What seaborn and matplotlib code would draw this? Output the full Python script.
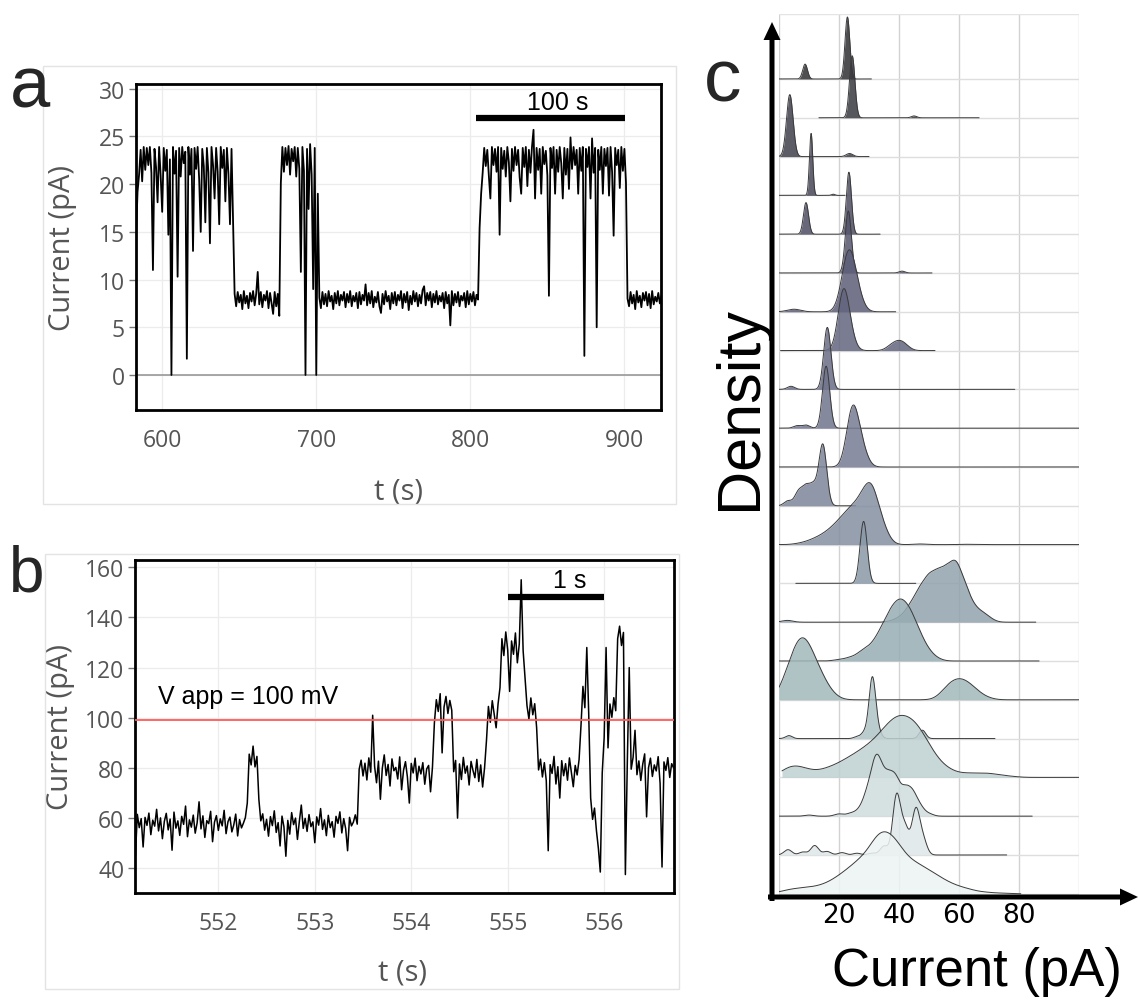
import numpy as np
import pandas as pd
import matplotlib
matplotlib.use("Agg")
import matplotlib.pyplot as plt
import seaborn as sns
from matplotlib.patches import Rectangle, FancyArrow

# ------------------------------------------------------------------ data
# panel a : current trace, one sample per second (t = 583 ... 924 s)
a_t_start, a_t_stop = 583, 924
a_high_1 = [14.5, 19.2, 21.0, 23.6, 20.3, 23.9, 21.5, 23.8, 22.0, 23.9,
            21.2, 11.0, 23.7, 21.8, 18.1, 23.9, 20.9, 17.1, 23.8, 21.4,
            23.6, 14.7, 22.6, 0.0, 23.9, 21.1, 23.5, 10.3, 23.8, 20.8,
            23.9, 22.2, 23.4, 1.7, 23.9, 21.0, 23.7, 13.0, 23.8, 21.6,
            23.9, 20.5, 15.0, 23.7, 21.9, 16.0, 23.8, 21.2, 13.8, 23.9,
            22.0, 18.5, 23.8, 21.3, 15.8, 23.9, 21.7, 23.6, 18.2, 23.8,
            21.1, 15.8, 23.7, 16.0]
a_low_1 = [8.5, 7.2, 8.7, 7.6, 8.4, 6.9, 8.8, 7.5, 8.3, 7.0,
           8.6, 7.7, 8.8, 7.3, 8.5, 10.8, 7.4, 8.7, 7.1, 8.4,
           7.8, 8.8, 7.0, 8.6, 7.5, 6.4, 8.7, 7.2, 8.5, 6.2]
a_high_2 = [20.1, 23.9, 21.3, 23.8, 22.0, 24.0, 21.0, 23.7, 22.4, 23.9,
            20.8, 23.8, 21.6, 10.8, 23.9, 21.4, 0.0, 23.7, 17.4, 24.2,
            21.0, 9.0, 23.8, 0.0, 19.0]
a_low_2 = [8.1, 7.0, 8.7, 7.4, 8.5, 7.2, 8.8, 7.7, 8.3, 6.9,
           8.6, 7.5, 8.8, 7.3, 8.4, 7.8, 8.7, 7.1, 8.5, 7.6,
           8.8, 7.2, 8.3, 7.7, 8.6, 7.0, 8.7, 7.4, 8.4, 7.8,
           9.5, 7.3, 8.6, 7.5, 8.8, 7.1, 8.2, 7.6, 8.7, 7.2,
           6.5, 8.5, 7.4, 8.8, 7.7, 8.3, 6.9, 8.6, 7.5, 8.7,
           7.3, 8.4, 7.8, 8.8, 7.0, 8.5, 7.6, 8.7, 6.8, 8.3,
           7.4, 8.8, 7.7, 8.6, 7.2, 8.4, 7.5, 8.9, 9.3, 7.3,
           8.6, 7.8, 8.7, 7.1, 8.5, 7.6, 8.8, 7.4, 8.3, 7.7,
           8.6, 7.0, 8.7, 7.5, 8.4, 5.2, 8.8, 7.3, 8.5, 7.6,
           8.7, 7.2, 8.3, 7.8, 8.6, 7.1, 8.8, 7.4, 8.5, 7.7,
           8.7, 7.3, 8.4, 7.9]
a_high_3 = [15.4, 19.0, 21.2, 23.8, 21.9, 23.6, 20.9, 18.5, 23.9, 22.0,
            23.7, 21.3, 23.9, 14.7, 23.8, 21.6, 23.5, 20.8, 23.9, 22.3,
            18.2, 23.7, 21.4, 23.9, 22.0, 23.6, 20.7, 19.0, 23.8, 21.8,
            23.9, 19.8, 23.6, 21.2, 23.9, 25.7, 18.5, 23.8, 21.5, 23.7,
            19.0, 23.9, 22.1, 23.5, 20.9, 8.3, 23.8, 21.7, 23.9, 19.0,
            23.6, 21.3, 23.9, 22.2, 18.5, 23.8, 21.0, 23.7, 19.5, 24.9,
            21.6, 23.9, 22.0, 23.6, 19.0, 23.8, 21.4, 23.9, 2.0, 23.7,
            21.8, 23.9, 18.5, 24.8, 21.2, 23.8, 5.0, 23.6, 21.5, 23.9,
            19.0, 23.7, 21.9, 23.8, 18.8, 23.9, 21.3, 14.6, 23.8, 22.0,
            23.6, 19.6, 23.9, 21.4, 23.7, 20.2]
a_low_3 = [8.0, 7.2, 8.7, 7.5, 8.4, 6.9, 8.8, 7.6, 8.3, 7.1,
           8.6, 7.8, 8.7, 7.3, 8.5, 7.0, 8.8, 7.4, 8.2, 7.7,
           8.6, 7.5, 8.3]
a_xticks = [600, 700, 800, 900]
a_yticks = [0, 5, 10, 15, 20, 25, 30]

# panel b : current trace, one sample every 0.02 s from 551.14 s
b_t_start, b_dt = 551.14, 0.02
b_seg_A = [45.0, 61.5, 56.2, 59.8, 48.5, 60.3, 57.1, 62.0, 53.4, 59.2,
           56.8, 63.5, 54.9, 60.1, 51.8, 58.7, 61.9, 55.3, 59.6, 47.2,
           62.4, 56.0, 58.9, 53.1, 60.7, 57.5, 64.8, 52.6, 59.3, 56.4,
           61.2, 54.0, 58.1, 66.5, 55.7, 60.9, 52.3, 59.0, 57.8, 62.7,
           50.6, 58.4, 61.0, 55.1, 59.7, 56.9, 63.1, 53.8, 58.6, 60.4,
           54.5, 57.3, 61.6, 52.9, 59.4, 56.1, 58.0, 60.2]
b_seg_B = [66.0, 85.5, 81.2, 88.7, 80.4, 84.6, 67.5]
b_seg_C = [58.9, 61.7, 55.2, 59.5, 52.8, 60.6, 57.0, 62.9, 54.3, 58.2,
           48.9, 60.8, 56.5, 44.8, 59.1, 53.6, 62.2, 57.4, 60.0, 51.5,
           58.8, 65.2, 55.9, 59.9, 54.7, 61.4, 56.6, 58.5, 50.2, 60.5,
           57.2, 63.8, 55.5, 59.3, 53.0, 61.1, 56.2, 58.6, 52.4, 60.7,
           57.9, 62.5, 54.1, 59.8, 55.8, 47.0, 60.3, 56.9, 58.4, 61.3, 57.6]
b_seg_D = [79.5, 83.1, 76.8, 81.9, 75.2, 84.0, 78.3, 101.0, 80.6, 74.1,
           82.7, 67.5, 79.9, 85.2, 77.0, 81.4, 72.8, 83.6, 78.9, 80.2,
           75.6, 84.4, 71.3, 79.1, 82.5, 76.4, 66.0, 81.8, 78.0, 83.9,
           74.9, 80.7, 77.6, 82.1, 73.5, 79.6, 81.0, 70.5, 80.4]
b_seg_E = [98.0, 107.2, 102.5, 109.6, 86.0, 104.3, 108.5, 101.7, 106.9, 103.0]
b_seg_F = [78.5, 83.0, 60.0, 81.6, 75.4, 84.2, 77.9, 80.8, 73.2, 82.6,
           79.0, 76.1, 83.4, 74.6, 81.2, 72.4, 80.0]
b_seg_G = [91.0, 104.5, 98.2, 106.8, 101.4, 96.0, 105.5]
b_seg_H = [112.0, 131.5, 124.8, 134.2, 127.0, 110.5, 130.6, 125.3, 133.8, 121.9,
           129.4, 155.0, 126.7, 116.0]
b_seg_I = [104.8, 99.5, 107.9, 101.2, 105.6, 96.0]
b_seg_J = [79.2, 83.5, 76.4, 82.1, 74.9, 47.0, 81.3, 77.8, 84.6, 73.6,
           80.5, 68.0, 82.9, 76.9, 81.7, 75.1, 84.0, 78.4, 72.5, 81.0, 77.2, 83.3]
b_seg_K = [97.0, 112.5, 104.0, 128.0, 101.5]
b_seg_L = [68.0, 59.5, 64.0, 55.0, 48.0, 38.5]
b_seg_M = [78.0, 92.0, 128.0, 88.0]
b_seg_N = [105.5, 100.2, 108.0, 102.8]
b_seg_O = [131.5, 136.5, 128.8, 134.0]
b_seg_P = [37.5, 82.0, 120.0, 79.5, 84.2, 95.0, 77.3, 82.8, 75.0, 81.5,
           85.6, 60.5, 80.1, 83.9, 76.6, 81.2, 78.8, 84.5, 73.9, 40.5,
           82.4, 79.0, 84.1, 76.2, 81.7, 80.0]
b_xticks = [552, 553, 554, 555, 556]
b_yticks = [40, 60, 80, 100, 120, 140, 160]
b_vapp = 99.3

# panel c : ridgeline densities (top row first): sample currents, weights, bandwidth
ridge_x = [
    [0, 8.7, 22.8, 30.8],
    [13.3, 24.4, 45, 66.7],
    [0, 3.6, 23.5, 30],
    [0, 10.7, 18, 22],
    [0, 9.0, 23.3, 33.7],
    [0, 23.1, 41, 51],
    [0, 5, 23.0, 25.5, 38.9],
    [0.5, 21.4, 23.5, 37.5, 40, 42, 52],
    [0, 4, 16.1, 78.6],
    [0, 6, 9, 15.7, 100],
    [0, 24.5, 27.5, 100],
    [0, 3, 6.5, 9, 11.5, 14.6, 25.6],
    [0, 6, 9, 12, 15, 18, 21, 24, 27, 29.5, 31.5, 34, 36, 47, 62, 100],
    [5.6, 28.2, 45.6],
    [0, 2.8, 38, 41, 44, 47, 50, 53, 56, 59, 62, 65, 68, 70.5, 85.6],
    [0, 20, 24, 28, 31.5, 34.5, 37.5, 40.5, 43.5, 46.5, 49.5, 52.5, 86.7],
    [0, 3, 6.5, 9.5, 13, 16.5, 56.5, 60.3, 64, 68, 100],
    [0, 3.3, 26, 28.5, 31.1, 33, 47.8, 72],
    [1, 4, 7, 10, 13, 16, 19, 22, 25, 28, 31, 34, 37, 40, 43, 46, 49, 52, 55,
     58, 62, 66, 70, 74, 78, 100],
    [0, 10, 20, 24, 27, 29.5, 32, 34, 36.5, 39, 42, 44.5, 47, 50, 84.4],
    [0, 3, 8, 11.9, 16, 21, 26, 31, 35, 39.2, 42, 45.6, 48, 75.9],
    [0, 1, 4, 7, 10, 13, 16, 19, 22, 25, 28, 31, 33.5, 36, 38.5, 41, 44, 47,
     50, 53, 56, 59, 62, 65, 69, 74, 80.6],
]
ridge_w = [
    [0.001, 0.24, 1, 0.001],
    [0.001, 1, 0.03, 0.001],
    [0.001, 1, 0.05, 0.001],
    [0.001, 1, 0.02, 0.001],
    [0.001, 0.51, 1, 0.001],
    [0.001, 1, 0.03, 0.001],
    [0.001, 0.05, 1, 0.35, 0.001],
    [0.001, 1, 0.25, 0.08, 0.12, 0.07, 0.001],
    [0.001, 0.05, 1, 0.001],
    [0.001, 0.04, 0.05, 1, 0.001],
    [0.001, 1, 0.3, 0.001],
    [0.001, 0.08, 0.22, 0.28, 0.3, 1, 0.001],
    [0.001, 0.02, 0.06, 0.13, 0.22, 0.36, 0.55, 0.75, 0.86, 0.92, 0.95, 0.45,
     0.12, 0.02, 0.01, 0.001],
    [0.001, 1, 0.001],
    [0.001, 0.04, 0.03, 0.1, 0.3, 0.55, 0.75, 0.8, 0.85, 1.0, 0.6, 0.25, 0.15,
     0.05, 0.001],
    [0.001, 0.03, 0.08, 0.22, 0.3, 0.55, 0.85, 1.0, 0.85, 0.5, 0.2, 0.05, 0.001],
    [0.001, 0.3, 0.55, 0.5, 0.3, 0.1, 0.17, 0.22, 0.15, 0.04, 0.001],
    [0.001, 0.05, 0.03, 0.1, 1, 0.12, 0.14, 0.001],
    [0.1, 0.2, 0.18, 0.12, 0.1, 0.15, 0.2, 0.28, 0.36, 0.45, 0.55, 0.7, 0.88,
     0.98, 0.95, 0.85, 0.6, 0.35, 0.18, 0.11, 0.09, 0.09, 0.09, 0.05, 0.02, 0.001],
    [0.001, 0.02, 0.04, 0.05, 0.1, 0.35, 0.75, 0.55, 0.55, 0.55, 0.4, 0.35,
     0.15, 0.04, 0.001],
    [0.001, 0.09, 0.05, 0.16, 0.06, 0.04, 0.03, 0.03, 0.15, 1, 0.45, 0.75,
     0.25, 0.001],
    [0.001, 0.05, 0.08, 0.1, 0.11, 0.13, 0.18, 0.27, 0.38, 0.5, 0.63, 0.76,
     0.88, 0.9, 0.78, 0.66, 0.57, 0.48, 0.4, 0.3, 0.21, 0.14, 0.1, 0.06, 0.04,
     0.02, 0.001],
]
ridge_bw = [0.8, 0.9, 1.1, 0.55, 0.85, 1.0, 2.2, 1.8, 1.2, 1.2, 2.0, 1.3,
            2.0, 1.2, 1.8, 2.0, 2.8, 1.1, 2.5, 1.5, 1.3, 2.5]
c_xticks = [20, 40, 60, 80]

# ------------------------------------------------------------------ style
sns.set_theme(style="white")
plt.rcParams["font.family"] = ["DejaVu Sans"]
W, H = 1138, 1004
fig = plt.figure(figsize=(W / 100, H / 100), dpi=100)
GRAYTXT = "#555555"


def fr(x0, y0, x1, y1):
    return [x0 / W, 1 - y1 / H, (x1 - x0) / W, (y1 - y0) / H]


def style_trace_axes(ax):
    for s in ax.spines.values():
        s.set_visible(True)
        s.set_color("black")
        s.set_linewidth(2)
    ax.grid(True, color="#ececec", lw=0.9)
    ax.set_axisbelow(True)
    ax.tick_params(axis="y", length=5, width=1, color="#777777", left=True,
                   labelcolor=GRAYTXT, labelsize=16.5, pad=3)
    ax.tick_params(axis="x", length=0, labelcolor=GRAYTXT, labelsize=16.5, pad=13)
    for lab in ax.get_xticklabels() + ax.get_yticklabels():
        lab.set_family("Open Sans")


# ------------------------------------------------------------------ panel a
trace_a = a_high_1 + a_low_1 + a_high_2 + a_low_2 + a_high_3 + a_low_3
dfa = pd.DataFrame({"t": np.arange(a_t_start, a_t_stop + 1), "I": trace_a})
axa = fig.add_axes(fr(136, 85, 661.4, 410.7))
sns.lineplot(data=dfa, x="t", y="I", ax=axa, color="black", linewidth=1.3,
             estimator=None, zorder=3)
axa.axhline(0, color="#999999", lw=1.2, zorder=2)
axa.set_xlim(a_t_start, a_t_stop)
axa.set_ylim(-3.64, 30.5)
axa.set_xticks(a_xticks)
axa.set_yticks(a_yticks)
style_trace_axes(axa)
axa.set_xlabel("t (s)", family="Open Sans", color=GRAYTXT, fontsize=21)
axa.set_ylabel("Current (pA)", family="Open Sans", color=GRAYTXT, fontsize=21)
axa.xaxis.set_label_coords(0.499, -0.25)
axa.xaxis.label.set_va("center")
axa.yaxis.set_label_coords(-0.139, 0.50)
axa.yaxis.label.set_va("center")
axa.plot([803.9, 900.5], [26.9, 26.9], color="black", lw=4.5,
         solid_capstyle="butt", zorder=4)
axa.text(856.5, 28.6, "100 s", ha="center", va="center", fontsize=18,
         family="Liberation Sans", color="black")

# ------------------------------------------------------------------ panel b
trace_b = (b_seg_A + b_seg_B + b_seg_C + b_seg_D + b_seg_E + b_seg_F + b_seg_G
           + b_seg_H + b_seg_I + b_seg_J + b_seg_K + b_seg_L + b_seg_M
           + b_seg_N + b_seg_O + b_seg_P)
dfb = pd.DataFrame({"t": b_t_start + b_dt * np.arange(len(trace_b)), "I": trace_b})
axb = fig.add_axes(fr(135.4, 560.7, 673.6, 894))
sns.lineplot(data=dfb, x="t", y="I", ax=axb, color="black", linewidth=1.1,
             estimator=None, zorder=3)
axb.axhline(b_vapp, color="#ff5a5a", lw=1.3, zorder=4)
axb.set_xlim(551.14, 556.72)
axb.set_ylim(30.15, 163.0)
axb.set_xticks(b_xticks)
axb.set_yticks(b_yticks)
style_trace_axes(axb)
axb.set_xlabel("t (s)", family="Open Sans", color=GRAYTXT, fontsize=21)
axb.set_ylabel("Current (pA)", family="Open Sans", color=GRAYTXT, fontsize=21)
axb.xaxis.set_label_coords(0.497, -0.237)
axb.xaxis.label.set_va("center")
axb.yaxis.set_label_coords(-0.140, 0.50)
axb.yaxis.label.set_va("center")
axb.plot([555.0, 556.0], [148.3, 148.3], color="black", lw=4.5,
         solid_capstyle="butt", zorder=5)
axb.text(555.64, 154.8, "1 s", ha="center", va="center", fontsize=18,
         family="Liberation Sans", color="black")
axb.text(551.377, 108.8, "V app = 100 mV", ha="left", va="center", fontsize=18,
         family="Liberation Sans", color="black")

# ------------------------------------------------------------------ panel c
n_rows = len(ridge_x)
base0, step = 80.0, 38.8
CX0, CX1, CTOP, CBOT = 779, 1079, 15, 897

axg = fig.add_axes(fr(CX0, CTOP, CX1, CBOT))
axg.set_xlim(0, 100)
axg.set_ylim(CBOT, CTOP)
for s in axg.spines.values():
    s.set_visible(False)
axg.set_yticks([])
for gx in range(0, 101, 20):
    axg.axvline(gx, color="#d2d2d2", lw=1.0)
for i in range(n_rows):
    axg.axhline(base0 + step * i, color="#dedede", lw=1.0)
axg.axhline(CTOP + 0.5, color="#e4e4e4", lw=1.0)
axg.set_xticks(c_xticks)
axg.set_xticklabels([str(v) for v in c_xticks])
axg.tick_params(axis="x", length=0, labelsize=19, pad=4, labelcolor="black")
axg.set_xlabel("Current (pA)", family="Liberation Sans", fontsize=38, color="black")
axg.xaxis.set_label_coords(0.66, -0.085)
axg.xaxis.label.set_va("center")
axg.set_ylabel("Density", family="Liberation Sans", fontsize=44, color="black")
axg.yaxis.set_label_coords(-0.127, 0.554)
axg.yaxis.label.set_va("center")

pal = sns.blend_palette(["#303034", "#585873", "#7a8097", "#9cb5b8", "#edf3f3"],
                        n_colors=n_rows)

for i in range(n_rows):
    xs = np.asarray(ridge_x[i], float)
    ws = np.asarray(ridge_w[i], float)
    sd = float(np.sqrt(np.cov(xs, aweights=ws)))
    factor = ridge_bw[i] / sd
    b = base0 + step * i
    ax = fig.add_axes(fr(CX0, b - 65, CX1, b + 5))
    ax.patch.set_alpha(0)
    sns.kdeplot(x=xs, weights=ws, bw_method=factor, cut=0, gridsize=1500,
                fill=True, color=pal[i], alpha=0.85, linewidth=0, ax=ax)
    sns.kdeplot(x=xs, weights=ws, bw_method=factor, cut=0, gridsize=1500,
                color="#3a3a3a", linewidth=0.7, ax=ax)
    ymax = ax.lines[-1].get_ydata().max()
    sc = ymax / 62.0
    ax.set_ylim(-5 * sc, 65 * sc)
    ax.set_xlim(0, 100)
    ax.axis("off")

# ------------------------------------------------------------------ overlay (frames, arrows, letters)
ov = fig.add_axes([0, 0, 1, 1])
ov.set_xlim(0, W)
ov.set_ylim(H, 0)
ov.axis("off")
ov.patch.set_alpha(0)
ov.add_patch(Rectangle((43, 67), 633, 438, fill=False, ec="#e3e3e3", lw=1))
ov.add_patch(Rectangle((45, 555), 634, 435, fill=False, ec="#e3e3e3", lw=1))
ov.add_patch(FancyArrow(772, 902, 0, -879, width=5, head_width=17,
                        head_length=18, length_includes_head=True,
                        color="black", lw=0))
ov.add_patch(FancyArrow(768, 898, 370, 0, width=5, head_width=17,
                        head_length=18, length_includes_head=True,
                        color="black", lw=0))
ov.text(10, 107, "a", fontsize=52, family="Liberation Sans", ha="left", va="baseline")
ov.text(9, 592, "b", fontsize=46, family="Liberation Sans", ha="left", va="baseline")
ov.text(704, 102, "c", fontsize=54, family="Liberation Sans", ha="left", va="baseline")

fig.savefig("out.png", dpi=100)
